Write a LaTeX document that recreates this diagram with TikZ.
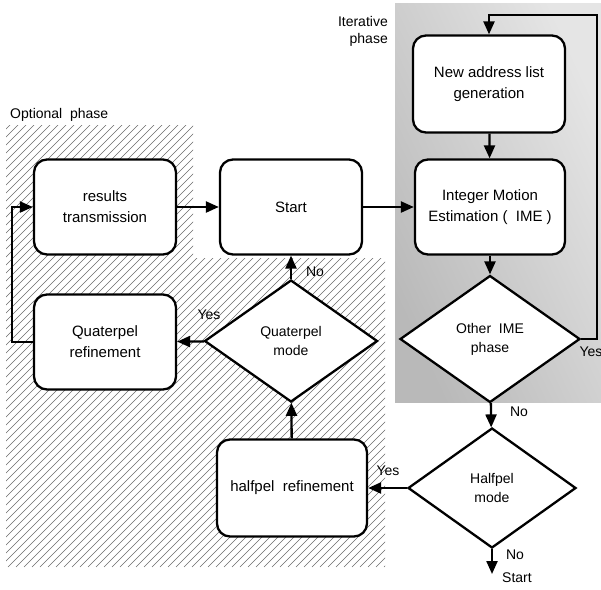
\documentclass[tikz,border=0pt]{standalone}
\usepackage{fontspec}
\setmainfont{Liberation Sans}
\usetikzlibrary{arrows.meta, positioning, calc, shapes.geometric}
\definecolor{hatc}{HTML}{6A6A6A}

\tikzset{
  box/.style={draw, rounded corners=13pt, line width=2.3pt, fill=white,
    minimum width=142pt, minimum height=95pt, align=center,
    font=\fontsize{15}{21}\selectfont},
  dec/.style={draw, diamond, line width=2.3pt, fill=white, inner sep=0pt,
    align=center, font=\fontsize{14}{19}\selectfont},
  arr/.style={-{Triangle[length=13pt, width=11pt]}, line width=2.3pt},
  lab/.style={font=\fontsize{14}{17}\selectfont, inner sep=0pt}
}

\begin{document}
\begin{tikzpicture}[x=1pt, y=-1pt]
    \useasboundingbox (0,0) rectangle (601,589);
    % optional phase (hatched)
    \begin{scope}
      \clip (6,125) -- (193,125) -- (193,258) -- (385,258) -- (385,567)
        -- (6,567) -- cycle;
      \foreach \i in {-440,-432,...,392}{
        \draw[hatc, line width=0.45pt] (\i,567) -- ++(450,-450);
      }
    \end{scope}
    % iterative phase (grey)
    \shade[shading=axis, top color=gray!55, bottom color=gray!20,
      shading angle=115] (395,3) rectangle (601,402);
    \node[lab, anchor=west] (optlab) at (10,115) {Optional\ \ phase};
    \node[lab, anchor=east, align=right] (itlab) at (388,31)
      {Iterative\\phase};

    \node[box] (trans) at (105,207) {results\\transmission};
    \node[box] (start) at (291,207) {Start};
    \node[box, minimum width=152pt, minimum height=97pt]
      (addr) at (489,84) {New address list\\generation};
    \node[box, minimum width=150pt] (ime) at (490,207)
      {Integer Motion\\Estimation (\ \ IME )};
    \node[dec, minimum width=180pt, minimum height=127pt]
      (other) at (490,339) {Other\ \ IME\\phase};
    \node[dec, minimum width=168pt, minimum height=120pt]
      (half) at (492,488) {Halfpel\\mode};
    \node[box, minimum width=150pt, minimum height=97pt]
      (halfref) at (292,488) {halfpel\ \ refinement};
    \node[dec, minimum width=173pt, minimum height=122pt]
      (quart) at (291,341) {Quaterpel\\mode};
    \node[box] (quartref) at (105,342) {Quaterpel\\refinement};

    \coordinate (loop) at (597,15);
    \coordinate (back) at (12,207);
    \coordinate (endp) at (492,574);

    \draw[arr] (trans) -- (start);
    \draw[arr] (start) -- (ime);
    \draw[arr] (addr) -- (ime);
    \draw[arr] (ime) -- (other);
    \draw[arr] (other.east) -| (loop) -| (addr.north);
    \draw[arr] (other) -- (half);
    \draw[arr] (half) -- (halfref);
    \draw[arr] (half) -- (endp);
    \draw[arr] (halfref) -- (quart);
    \draw[arr] (quart) -- (start);
    \draw[arr] (quart) -- (quartref);
    \draw[arr] (quartref.west) -| (back) -- (trans.west);

    \node[lab] (y1) at (591,352) {Yes};
    \node[lab] (n1) at (519,412) {No};
    \node[lab] (y2) at (388,471) {Yes};
    \node[lab] (n2) at (515,555) {No};
    \node[lab] (st) at (517,578) {Start};
    \node[lab] (n3) at (315,272) {No};
    \node[lab] (y3) at (209,315) {Yes};
  \end{tikzpicture}
\end{document}
